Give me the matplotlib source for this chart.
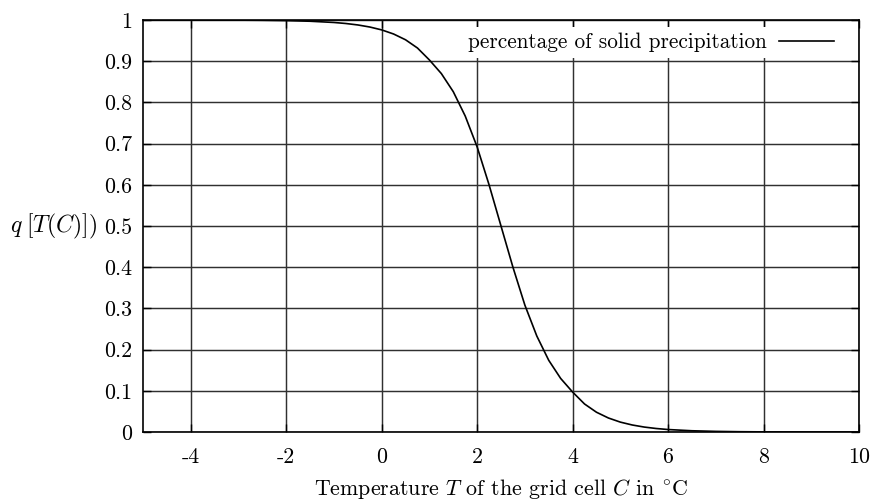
import matplotlib
matplotlib.use("Agg")
import matplotlib.pyplot as plt

# ---- data ----
temperature = [-5, -4, -3, -2.5, -2, -1.5, -1, -0.75, -0.5, -0.25, 0, 0.25, 0.5, 0.75,
               1, 1.25, 1.5, 1.75, 2, 2.25, 2.5, 2.75, 3, 3.25, 3.5, 3.75, 4, 4.25,
               4.5, 4.75, 5, 5.25, 5.5, 5.75, 6, 6.5, 7, 7.5, 8, 9, 10]
solid_fraction = [1.0, 1.0, 0.9997, 0.9993, 0.9985, 0.997, 0.994, 0.9915, 0.988, 0.983,
                  0.976, 0.966, 0.952, 0.932, 0.903, 0.870, 0.826, 0.767, 0.692, 0.600,
                  0.500, 0.400, 0.308, 0.233, 0.174, 0.130, 0.097, 0.068, 0.048, 0.034,
                  0.024, 0.017, 0.012, 0.0085, 0.006, 0.003, 0.0015, 0.0007, 0.0003,
                  0.0, 0.0]
x_ticks = [-4, -2, 0, 2, 4, 6, 8, 10]
x_tick_labels = ["-4", "-2", "0", "2", "4", "6", "8", "10"]
y_ticks = [0, 0.1, 0.2, 0.3, 0.4, 0.5, 0.6, 0.7, 0.8, 0.9, 1]
y_tick_labels = ["0", "0.1", "0.2", "0.3", "0.4", "0.5", "0.6", "0.7", "0.8", "0.9", "1"]
series_label = "percentage of solid precipitation"

plt.rcParams["font.family"] = "serif"
plt.rcParams["font.serif"] = ["cmr10", "DejaVu Serif"]
plt.rcParams["mathtext.fontset"] = "cm"
plt.rcParams["axes.unicode_minus"] = False
plt.rcParams["axes.formatter.use_mathtext"] = True

FS = 15.8

fig = plt.figure(figsize=(8.74, 4.99), dpi=100)
ax = fig.add_axes([143 / 874, 1 - 432 / 499, (859 - 143) / 874, (432 - 20) / 499])

ax.plot(temperature, solid_fraction, color="black", lw=1.2, label=series_label, zorder=3,
        solid_joinstyle="round")

ax.set_xlim(-5, 10)
ax.set_ylim(0, 1)
ax.set_xticks(x_ticks)
ax.set_xticklabels(x_tick_labels, fontsize=FS)
ax.set_yticks(y_ticks)
ax.set_yticklabels(y_tick_labels, fontsize=FS)
ax.tick_params(direction="in", length=6, width=1.0, top=True, right=True, color="black")
ax.tick_params(axis="x", pad=11)
ax.tick_params(axis="y", pad=8)
ax.grid(True, color="#303030", lw=1.05)
for s in ax.spines.values():
    s.set_linewidth(1.2)
    s.set_color("black")

ax.set_xlabel(r"Temperature $T$ of the grid cell $C$ in $^{\circ}$C", fontsize=FS, labelpad=7)
ax.text(-46 / 716, 0.5, r"$q\;[T(C)])$", transform=ax.transAxes, ha="right", va="center",
        fontsize=17)

leg = ax.legend(loc="upper right", bbox_to_anchor=(0.973, 0.982), fontsize=15.3,
                markerfirst=False, handlelength=2.6, handletextpad=0.6,
                frameon=True, fancybox=False, borderpad=0.25, borderaxespad=0)
leg.get_frame().set_facecolor("white")
leg.get_frame().set_edgecolor("none")
leg.get_frame().set_alpha(1.0)

fig.savefig("out.png", dpi=100)
